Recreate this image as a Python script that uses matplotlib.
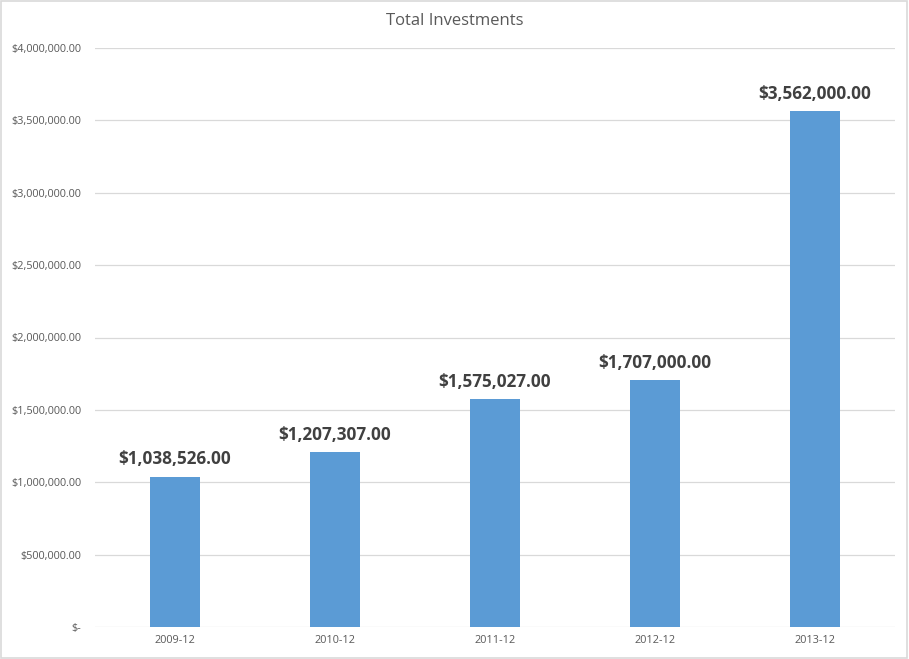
import matplotlib.pyplot as plt
import numpy as np
from matplotlib.ticker import FuncFormatter

periods = ['2009-12', '2010-12', '2011-12', '2012-12', '2013-12']
investments = [1038526.00, 1207307.00, 1575027.00, 1707000.00, 3562000.00]

plt.rcParams['font.family'] = ['Open Sans', 'DejaVu Sans']

fig = plt.figure(figsize=(9.09, 6.59), dpi=100)
ax = fig.add_axes([95/909, 32/659, 800/909, 579/659])

x = np.arange(len(periods))
bars = ax.bar(x, investments, width=0.3125, color='#5b9bd5', zorder=3)

labels = [f'${v:,.2f}' for v in investments]
ax.bar_label(bars, labels=labels, padding=6, fontsize=12.3, fontweight='bold', color='#404040')

def money(v, pos):
    if v == 0:
        return '$-'
    return f'${v:,.2f}'

ax.set_ylim(0, 4000000)
ax.set_yticks(np.arange(0, 4000001, 500000))
ax.yaxis.set_major_formatter(FuncFormatter(money))
ax.set_xlim(-0.5, len(periods) - 0.5)
ax.set_xticks(x)
ax.set_xticklabels(periods)

ax.grid(axis='y', color='#d9d9d9', linewidth=0.9, zorder=0)
for s in ax.spines.values():
    s.set_visible(False)
ax.tick_params(axis='both', length=0, labelsize=7.8, labelcolor='#595959')
ax.tick_params(axis='y', pad=10)
ax.tick_params(axis='x', pad=6)

fig.text(0.5, 1 - 21/659, 'Total Investments', ha='center', va='center',
         fontsize=12, color='#595959')

# light border round the chart area
fig.patches.append(plt.Rectangle((0.001, 0.002), 0.997, 0.996, transform=fig.transFigure,
                                 fill=False, edgecolor='#d9d9d9', linewidth=1.2))

plt.savefig('out.png', dpi=100)
